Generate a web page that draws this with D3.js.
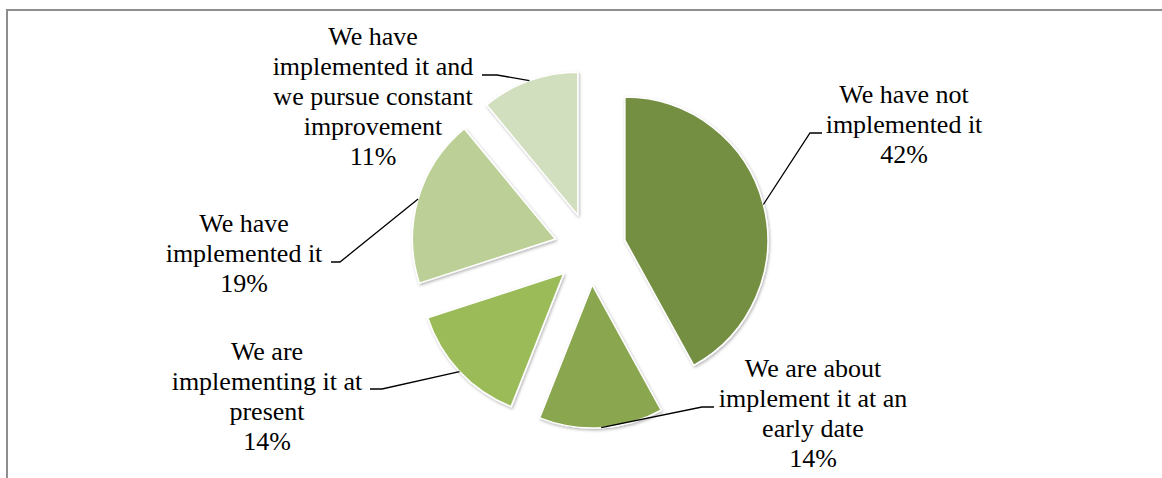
<!DOCTYPE html>
<html>
<head>
<meta charset="utf-8">
<script src="https://cdn.jsdelivr.net/npm/d3@7"></script>
<style>
  body { margin: 0; background: #fff; }
  svg { display: block; }
</style>
</head>
<body>
<div id="chart-container"></div>
<script>
// Chart data
const categories = [
  "We have not implemented it",
  "We are about implement it at an early date",
  "We are implementing it at present",
  "We have implemented it",
  "We have implemented it and we pursue constant improvement"
];
const values = [42, 14, 14, 19, 11];
const labelLines = [
  ["We have not", "implemented it", "42%"],
  ["We are about", "implement it at an", "early date", "14%"],
  ["We are", "implementing it at", "present", "14%"],
  ["We have", "implemented it", "19%"],
  ["We have", "implemented it and", "we pursue constant", "improvement", "11%"]
];

// Layout
const W = 1162, H = 478;
const cx = 590, cy = 249;
const radius = 143;
const explode = 36;
const colors = ["#758f42", "#8aa64f", "#9bbb59", "#bbcf96", "#d2dfbf"];

// label block placement: [center x, first baseline]
const labelPos = [[904, 103], [813, 377], [267, 360], [244, 232], [373, 45]];
// leader: [label side point, elbow point]
const leaderPos = [
  [[822, 133], [810, 133]],
  [[714, 407], [702, 407]],
  [[370, 389], [382, 389]],
  [[331, 262], [340, 262]],
  [[482, 75], [497, 75]]
];
const lineHeight = 30;

const svg = d3.select("#chart-container")
  .append("svg")
  .attr("width", W)
  .attr("height", H);

// soft shadow under slices
const defs = svg.append("defs");
const filter = defs.append("filter")
  .attr("id", "shadow")
  .attr("x", "-20%").attr("y", "-20%")
  .attr("width", "140%").attr("height", "140%");
filter.append("feDropShadow")
  .attr("dx", 1)
  .attr("dy", 1.5)
  .attr("stdDeviation", 1.8)
  .attr("flood-color", "#000")
  .attr("flood-opacity", 0.3);

// Chart area border (top and left visible)
svg.append("rect")
  .attr("x", 7)
  .attr("y", 10)
  .attr("width", W + 20)
  .attr("height", H + 20)
  .attr("fill", "none")
  .attr("stroke", "#8e8e8e")
  .attr("stroke-width", 2);

const pie = d3.pie()
  .sort(null)
  .startAngle(0)
  .endAngle(2 * Math.PI)
  .value(d => d);

const arcs = pie(values);

const arc = d3.arc()
  .innerRadius(0)
  .outerRadius(radius);

const edgeArc = d3.arc()
  .innerRadius(radius)
  .outerRadius(radius);

const offset = d => {
  const mid = (d.startAngle + d.endAngle) / 2;
  return [Math.sin(mid) * explode, -Math.cos(mid) * explode];
};

const g = svg.append("g")
  .attr("transform", `translate(${cx},${cy})`);

// Slices
g.selectAll("path.slice")
  .data(arcs)
  .join("path")
  .attr("class", "slice")
  .attr("transform", d => `translate(${offset(d)[0]},${offset(d)[1]})`)
  .attr("d", arc)
  .attr("fill", (d, i) => colors[i])
  .attr("stroke", "#fff")
  .attr("stroke-width", 1.5)
  .attr("stroke-linejoin", "round")
  .attr("filter", "url(#shadow)");

// Leader lines
svg.selectAll("path.leader")
  .data(arcs)
  .join("path")
  .attr("class", "leader")
  .attr("fill", "none")
  .attr("stroke", "#000")
  .attr("stroke-width", 1.3)
  .attr("d", (d, i) => {
    const [ox, oy] = offset(d);
    const c = edgeArc.centroid(d);
    const px = cx + ox + c[0], py = cy + oy + c[1];
    const [a, b] = leaderPos[i];
    return d3.line()([a, b, [px, py]]);
  });

// Labels
svg.selectAll("text.label")
  .data(arcs)
  .join("text")
  .attr("class", "label")
  .attr("text-anchor", "middle")
  .style("font-family", "\"Liberation Serif\"")
  .style("font-size", "26px")
  .attr("fill", "#000")
  .each(function(d, i) {
    const t = d3.select(this);
    labelLines[i].forEach((line, j) => {
      t.append("tspan")
        .attr("x", labelPos[i][0])
        .attr("y", labelPos[i][1] + j * lineHeight)
        .text(line);
    });
  });
</script>
</body>
</html>
